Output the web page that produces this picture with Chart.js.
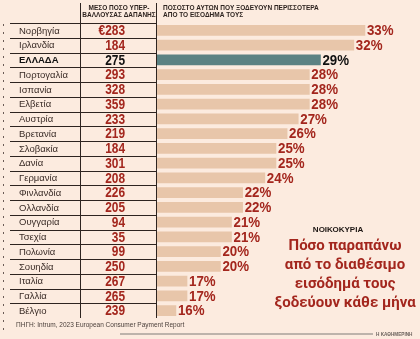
<!DOCTYPE html>
<html><head><meta charset="utf-8">
<script src="https://cdn.jsdelivr.net/npm/chart.js@4/dist/chart.umd.min.js"></script>
<style>html,body{margin:0;padding:0;background:#fcebdf;}#wrap{width:420px;height:339px;}</style>
</head><body><div id="wrap"><canvas id="c" width="420" height="339"></canvas></div>
<script>
const countries = ['Νορβηγία','Ιρλανδία','ΕΛΛΑΔΑ','Πορτογαλία','Ισπανία','Ελβετία','Αυστρία','Βρετανία','Σλοβακία','Δανία','Γερμανία','Φινλανδία','Ολλανδία','Ουγγαρία','Τσεχία','Πολωνία','Σουηδία','Ιταλία','Γαλλία','Βέλγιο'];
const overspendEUR = [283,184,275,293,328,359,233,219,184,301,208,226,205,94,35,99,250,267,265,239];
const sharePct = [33,32,29,28,28,28,27,26,25,25,24,22,22,21,21,20,20,17,17,16];
const highlight = 'ΕΛΛΑΔΑ';
const header1 = ['ΜΕΣΟ ΠΟΣΟ ΥΠΕΡ-','ΒΑΛΛΟΥΣΑΣ ΔΑΠΑΝΗΣ'];
const header2 = ['ΠΟΣΟΣΤΟ ΑΥΤΩΝ ΠΟΥ ΞΟΔΕΥΟΥΝ ΠΕΡΙΣΣΟΤΕΡΑ','ΑΠΟ ΤΟ ΕΙΣΟΔΗΜΑ ΤΟΥΣ'];
const kicker = 'ΝΟΙΚΟΚΥΡΙΑ';
const titleLines = ['Πόσο παραπάνω','από το διαθέσιμο','εισόδημά τους','ξοδεύουν κάθε μήνα'];
const sourceText = 'ΠΗΓΗ: Intrum, 2023 European Consumer Payment Report';
const brand = 'Η ΚΑΘΗΜΕΡΙΝΗ';

const RED = '#a3261d', DARK = '#2e2420', BAR = '#e8c6aa', TEAL = '#5b8283', BG = '#fcebdf';

function squeezed(ctx, text, x, y, sx) {
  ctx.save(); ctx.translate(x, y); ctx.scale(sx, 1); ctx.fillText(text, 0, 0); ctx.restore();
}

const tablePlugin = {
  id: 'table',
  beforeDraw(chart) {
    const ctx = chart.ctx;
    ctx.save(); ctx.fillStyle = BG; ctx.fillRect(0,0,chart.width,chart.height); ctx.restore();
  },
  afterDatasetsDraw(chart) {
    const ctx = chart.ctx;
    const y = chart.scales.y;
    const meta = chart.getDatasetMeta(0);
    const area = chart.chartArea;
    const step = (y.getPixelForValue(1) - y.getPixelForValue(0));
    ctx.save();
    ctx.strokeStyle = DARK; ctx.lineWidth = 1;
    for (let i = 0; i < countries.length; i++) {
      const yy = Math.round(y.getPixelForValue(i) - step/2) + 0.5;
      ctx.beginPath(); ctx.moveTo(10, yy); ctx.lineTo(area.left - 1, yy); ctx.stroke();
    }
    ctx.beginPath(); ctx.moveTo(80.5, 3); ctx.lineTo(80.5, area.bottom); ctx.stroke();
    ctx.beginPath(); ctx.moveTo(156.5, 3); ctx.lineTo(156.5, area.bottom); ctx.stroke();
    ctx.setLineDash([2,6]); ctx.strokeStyle = '#6a5a55';
    ctx.beginPath(); ctx.moveTo(3.5, 24); ctx.lineTo(3.5, 336); ctx.stroke();
    ctx.setLineDash([]);
    ctx.textBaseline = 'middle';
    countries.forEach((c, i) => {
      const cy = y.getPixelForValue(i);
      const hl = c === highlight;
      ctx.fillStyle = hl ? '#111' : '#3a2c27';
      ctx.textAlign = 'left';
      ctx.font = (hl ? 'bold ' : '') + '9.5px "Liberation Sans Narrow", sans-serif';
      ctx.fillText(c, 19, cy + 0.5);
      ctx.textAlign = 'right';
      ctx.fillStyle = hl ? '#111' : RED;
      ctx.font = 'bold 14px "Liberation Sans Narrow", sans-serif';
      squeezed(ctx, (i === 0 ? '€' : '') + overspendEUR[i], 125, cy + 1, 0.85);
      const bar = meta.data[i];
      ctx.textAlign = 'left';
      ctx.font = 'bold 14px "Liberation Sans Narrow", sans-serif';
      squeezed(ctx, sharePct[i] + '%', bar.x + 2, cy + 1, 0.95);
    });
    ctx.fillStyle = DARK;
    ctx.font = 'bold 6.5px "Liberation Sans Narrow", sans-serif';
    ctx.textAlign = 'center';
    ctx.fillText(header1[0], 119, 8.5);
    ctx.fillText(header1[1], 119, 15.5);
    ctx.textAlign = 'left';
    ctx.fillText(header2[0], 163, 8.5);
    ctx.fillText(header2[1], 163, 15.5);
    ctx.textAlign = 'center';
    ctx.font = 'bold 8px "Liberation Sans", sans-serif';
    ctx.fillStyle = '#1c1512';
    ctx.fillText(kicker, 338, 230);
    ctx.fillStyle = RED;
    ctx.font = 'bold 15px Roboto, sans-serif';
    titleLines.forEach((t, k) => ctx.fillText(t, 345, 246 + k * 19));
    ctx.textAlign = 'left';
    ctx.fillStyle = '#4a3f3a';
    ctx.font = '6.5px "Liberation Sans Narrow", sans-serif';
    ctx.fillText(sourceText, 16, 325.5);
    ctx.strokeStyle = '#bdb3ab'; ctx.lineWidth = 2;
    ctx.beginPath(); ctx.moveTo(120, 334); ctx.lineTo(373, 334); ctx.stroke();
    ctx.fillStyle = '#6b625d';
    ctx.font = 'bold 5.5px "Liberation Sans Narrow", sans-serif';
    squeezed(ctx, brand, 376, 334, 0.85);
    ctx.restore();
  }
};

new Chart(document.getElementById('c'), {
  type: 'bar',
  data: {
    labels: countries,
    datasets: [{
      data: sharePct,
      backgroundColor: countries.map(c => c === highlight ? TEAL : BAR),
      borderWidth: 0,
      barThickness: 10
    }]
  },
  options: {
    indexAxis: 'y',
    responsive: false,
    animation: false,
    devicePixelRatio: 1,
    layout: { padding: { left: 157, right: 5, top: 23, bottom: 21 } },
    plugins: { legend: { display: false }, tooltip: { enabled: false } },
    scales: {
      x: { display: false, min: 14.3, max: 37.5 },
      y: { display: false, offset: true, grid: { offset: true } }
    }
  },
  plugins: [tablePlugin]
});
</script>
</body></html>
